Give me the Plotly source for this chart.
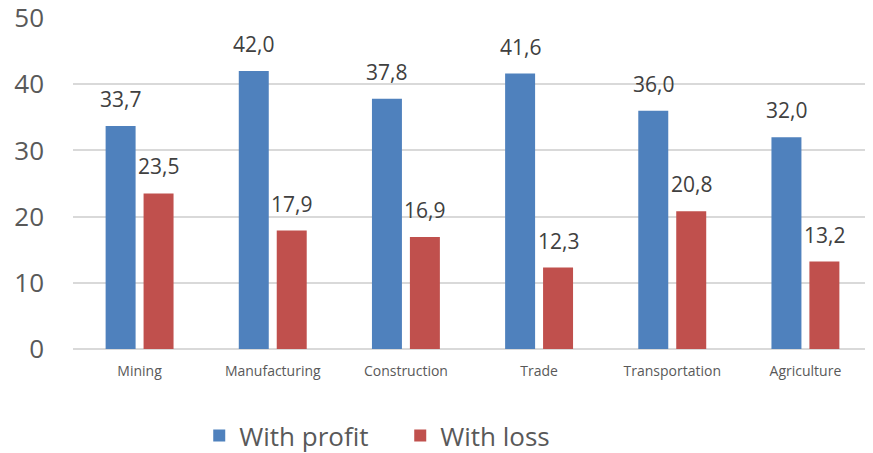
import plotly.graph_objects as go

categories = ["Mining", "Manufacturing", "Construction", "Trade", "Transportation", "Agriculture"]
with_profit = [33.7, 42.0, 37.8, 41.6, 36.0, 32.0]
with_loss = [23.5, 17.9, 16.9, 12.3, 20.8, 13.2]
series_names = ["With profit", "With loss"]
y_ticks = [0, 10, 20, 30, 40, 50]

colors = ["#4F81BD", "#C0504D"]
FONT = "Open Sans"

fig = go.Figure()
for name, vals, col in zip(series_names, [with_profit, with_loss], colors):
    fig.add_trace(go.Bar(
        x=categories, y=vals, name=name,
        marker=dict(color=col, line=dict(width=0)),
        cliponaxis=False,
    ))

# data labels as annotations, offset to each bar of the group
bargap, bargroupgap = 0.43, 0.21
slot = (1 - bargap) / 2
for si, vals in enumerate([with_profit, with_loss]):
    off = (si - 0.5) * slot
    for ci, v in enumerate(vals):
        fig.add_annotation(
            x=ci + off, y=v, xref="x", yref="y",
            text=f"{v:.1f}".replace(".", ","), showarrow=False,
            yanchor="bottom", yshift=11,
            font=dict(family=FONT, size=21, color="#404040"),
        )

fig.update_layout(
    width=865, height=445,
    margin=dict(l=65, r=1, t=10, b=104, autoexpand=False),
    paper_bgcolor="white", plot_bgcolor="white",
    barmode="group", bargap=bargap, bargroupgap=bargroupgap,
    font=dict(family=FONT, color="#595959"),
    showlegend=True,
    legend=dict(orientation="h", x=0.158, xanchor="left", y=-0.262, yanchor="middle",
                font=dict(family=FONT, size=26, color="#595959"), itemwidth=30,
                entrywidth=156, entrywidthmode="pixels",
                traceorder="normal"),
    yaxis=dict(range=[0, 50], tickvals=y_ticks, showgrid=True, gridcolor="#D9D9D9",
               gridwidth=1.5, zeroline=True, zerolinecolor="#D9D9D9", zerolinewidth=1.5,
               tickfont=dict(family=FONT, size=26, color="#595959"), ticks="",
               ticklabelstandoff=28, showline=False, ticklabeloverflow="allow"),
    xaxis=dict(tickfont=dict(family=FONT, size=14, color="#595959"), ticks="",
               ticklabelstandoff=12, showline=False, range=[-0.5, 5.5]),
)

fig.write_html("out.html")
